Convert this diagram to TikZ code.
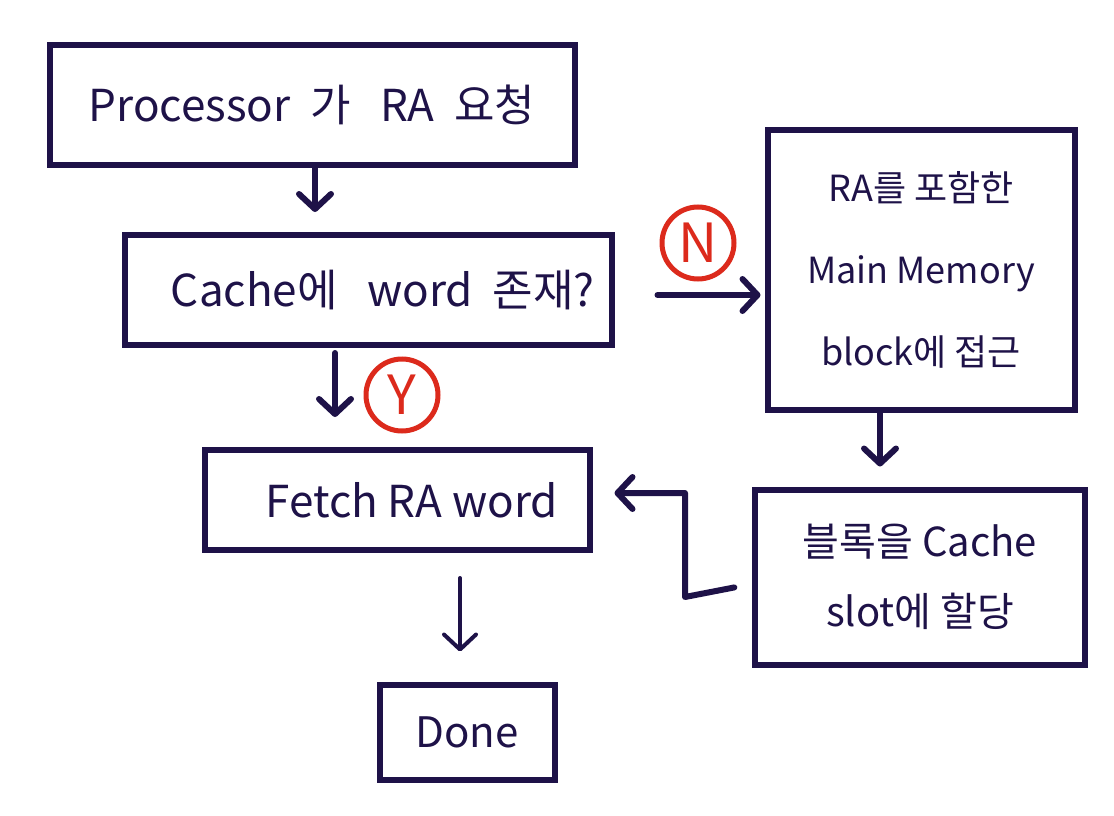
\documentclass[tikz,border=0pt]{standalone}
\usepackage{fontspec}
\setmainfont{Noto Sans CJK KR}
\usetikzlibrary{arrows.meta}
\definecolor{ink}{HTML}{1E1248}
\definecolor{signred}{HTML}{DC2A1C}

\begin{document}
\begin{tikzpicture}[x=1pt,y=-1pt,
	box/.style={draw=ink,line width=6pt,text=ink,align=center,inner sep=0pt,font=\fontsize{44}{52}\selectfont},
	flow/.style={draw=ink,line width=6pt,line cap=round,-{Straight Barb[length=15pt,width=32pt,round]}},
	answer/.style={circle,draw=signred,fill=white,line width=5pt,text=signred,minimum size=72pt,inner sep=0pt,font=\fontsize{54}{54}\selectfont}]
	\useasboundingbox (0,0) rectangle (1114,816);

	% Steps of the flow
	\node[box,minimum width=525pt,minimum height=120pt] (request) at (312,105) {Processor\ \ 가\ \ \ RA\ \ 요청};
	\node[box,minimum width=487pt,minimum height=110pt] (hit) at (368,290) {\ \ \ Cache에\ \ \ word\ \ 존재?};
	\node[box,minimum width=307pt,minimum height=280pt,font=\fontsize{36}{82}\selectfont] (access) at (921,270) {RA를 포함한\\Main Memory\\block에 접근};
	\node[box,minimum width=385pt,minimum height=100pt] (fetch) at (397,500) {\ \ \ Fetch RA word};
	\node[box,minimum width=330pt,minimum height=175pt,font=\fontsize{40}{70}\selectfont] (assign) at (920,577) {블록을 Cache\\slot에 할당};
	\node[box,minimum width=175pt,minimum height=95pt,font=\fontsize{42}{48}\selectfont] (done) at (467,732) {Done};

	% Connectors
	\draw[flow,shorten >=20pt] ([xshift=3pt]request.south) -- ([xshift=3pt]request.south |- hit.north);
	\draw[flow,shorten <=5pt,shorten >=30pt] ([xshift=-33pt]hit.south) -- ([xshift=-33pt]hit.south |- fetch.north);
	\draw[flow,shorten <=43pt,shorten >=4pt] ([yshift=-5pt]hit.east) -- ([yshift=-5pt]hit.east -| access.west);
	\draw[flow,shorten >=20pt] ([xshift=-41pt]access.south) -- ([xshift=-41pt]access.south |- assign.north);
	\draw[flow,line join=round,shorten <=18pt,shorten >=22pt] ([yshift=-7pt]assign.west) -- ++(-67,13) |- ([yshift=7pt]fetch.east);
	\draw[flow,line width=4pt,shorten <=25pt,shorten >=30pt] ([xshift=63pt]fetch.south) -- ([xshift=63pt]fetch.south |- done.north);

	% Answers
	\node[answer] (no) at (698,243) {N};
	\node[answer] (yes) at (402,395) {Y};

\end{tikzpicture}
\end{document}
